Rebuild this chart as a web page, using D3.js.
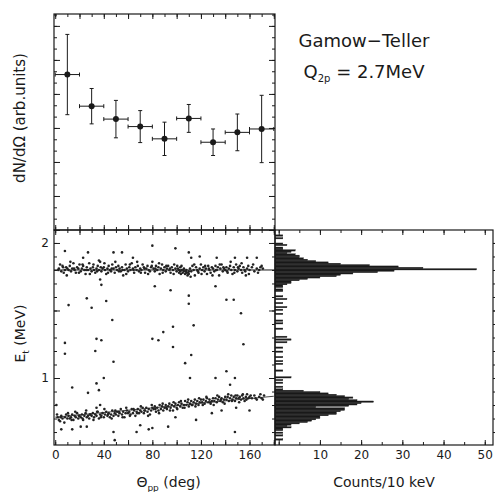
<!DOCTYPE html>
<html>
<head>
<meta charset="utf-8">
<script src="https://cdn.jsdelivr.net/npm/d3@7/dist/d3.min.js"></script>
<style>
body { margin: 0; background: #fff; }
svg text { font-family: "DejaVu Sans", sans-serif; fill: #1a1a1a; }
</style>
</head>
<body>
<div id="chart"></div>
<script>
// angular distribution, 20 deg bins
const thetaBins = [10, 30, 50, 70, 90, 110, 130, 150, 170];
const thetaHalfWidth = 10;
const dndo = [4.57, 3.64, 3.26, 3.04, 2.68, 3.28, 2.58, 2.87, 2.97];
const dndoErr = [1.18, 0.52, 0.55, 0.47, 0.49, 0.41, 0.39, 0.54, 0.99];

// scatter events [theta (deg), E (MeV)]
const upperBand = [
  [3,1.81],[5,1.79],[6,1.83],[8,1.80],[9,1.82],[4,1.84],[7,1.78],[10,1.81],
  [11,1.80],[12,1.83],[13,1.79],[14,1.81],[15,1.85],[16,1.80],[17,1.78],[18,1.82],[19,1.81],[20,1.84],
  [21,1.79],[22,1.81],[23,1.83],[24,1.80],[25,1.77],[26,1.82],[27,1.80],[28,1.85],[29,1.81],[30,1.79],
  [31,1.82],[32,1.80],[33,1.78],[34,1.81],[35,1.83],[36,1.80],[37,1.86],[38,1.79],[39,1.81],[40,1.82],
  [41,1.80],[42,1.77],[43,1.81],[44,1.83],[45,1.80],[46,1.79],[47,1.84],[48,1.81],[49,1.78],[50,1.82],
  [51,1.80],[52,1.83],[53,1.81],[54,1.79],[55,1.82],[56,1.76],[57,1.80],[58,1.84],[59,1.81],[60,1.79],
  [61,1.82],[62,1.80],[63,1.85],[64,1.81],[65,1.78],[66,1.82],[67,1.80],[68,1.83],[69,1.79],[70,1.81],
  [71,1.80],[72,1.84],[73,1.82],[74,1.78],[75,1.81],[76,1.83],[77,1.80],[78,1.79],[79,1.82],[80,1.86],
  [81,1.81],[82,1.79],[83,1.83],[84,1.80],[85,1.82],[86,1.77],[87,1.81],[88,1.84],[89,1.80],[90,1.82],
  [91,1.79],[92,1.81],[93,1.83],[94,1.80],[95,1.78],[96,1.82],[97,1.80],[98,1.84],[99,1.81],[100,1.79],
  [101,1.81],[102,1.80],[103,1.79],[104,1.80],[105,1.78],[106,1.79],[107,1.77],[108,1.78],[109,1.76],[110,1.77],
  [103,1.82],[106,1.81],[108,1.80],[110,1.79],[104,1.83],[102,1.78],
  [111,1.81],[112,1.79],[113,1.83],[114,1.80],[115,1.76],[116,1.82],[117,1.80],[118,1.78],[119,1.81],[120,1.84],
  [121,1.80],[122,1.82],[123,1.79],[124,1.81],[125,1.77],[126,1.83],[127,1.80],[128,1.78],[129,1.82],[130,1.81],
  [131,1.79],[132,1.83],[133,1.80],[134,1.82],[135,1.76],[136,1.81],[137,1.84],[138,1.79],[139,1.81],[140,1.80],
  [141,1.82],[142,1.78],[143,1.81],[144,1.83],[145,1.80],[146,1.77],[147,1.82],[148,1.80],[149,1.84],[150,1.79],
  [151,1.81],[152,1.83],[153,1.80],[154,1.78],[155,1.82],[156,1.80],[157,1.76],[158,1.81],[159,1.83],[160,1.80],
  [162,1.82],[164,1.79],[166,1.81],[168,1.80],[170,1.83],[171,1.81],
  [2.5,1.80],[6.5,1.82],[9.5,1.76],[12.5,1.86],[15.5,1.81],[19.5,1.78],[22.5,1.84],[25.5,1.80],[28.5,1.77],
  [31.5,1.84],[34.5,1.79],[37.5,1.82],[40.5,1.85],[43.5,1.78],[46.5,1.81],[49.5,1.86],[52.5,1.79],[55.5,1.80],
  [58.5,1.77],[61.5,1.84],[64.5,1.80],[67.5,1.86],[70.5,1.78],[73.5,1.81],[76.5,1.77],[79.5,1.83],[82.5,1.81],
  [85.5,1.85],[88.5,1.78],[91.5,1.83],[94.5,1.81],[97.5,1.77],[100.5,1.83],[103.5,1.77],[105.5,1.80],[107.5,1.79],
  [109.5,1.78],[111.5,1.75],[114.5,1.84],[117.5,1.79],[120.5,1.77],[123.5,1.83],[126.5,1.81],[129.5,1.76],
  [132.5,1.80],[135.5,1.84],[138.5,1.82],[141.5,1.79],[144.5,1.86],[147.5,1.78],[150.5,1.82],[153.5,1.85],
  [156.5,1.79],[159.5,1.77],[163,1.84],[167,1.78],[169,1.82]
];
const lowerBand = [
  [2,0.71],[3,0.69],[5,0.72],[6,0.70],[8,0.71],[9,0.73],[4,0.68],[10,0.70],
  [11,0.72],[12,0.70],[13,0.71],[14,0.73],[15,0.69],[16,0.72],[17,0.71],[18,0.74],[19,0.70],[20,0.72],
  [21,0.71],[22,0.73],[23,0.69],[24,0.72],[25,0.74],[26,0.71],[27,0.72],[28,0.70],[29,0.73],[30,0.72],
  [31,0.74],[32,0.71],[33,0.73],[34,0.72],[35,0.75],[36,0.70],[37,0.73],[38,0.72],[39,0.74],[40,0.71],
  [41,0.73],[42,0.75],[43,0.72],[44,0.74],[45,0.71],[46,0.73],[47,0.76],[48,0.72],[49,0.74],[50,0.73],
  [51,0.75],[52,0.72],[53,0.74],[54,0.77],[55,0.73],[56,0.75],[57,0.71],[58,0.74],[59,0.76],[60,0.74],
  [61,0.75],[62,0.73],[63,0.77],[64,0.74],[65,0.76],[66,0.72],[67,0.75],[68,0.77],[69,0.74],[70,0.76],
  [71,0.75],[72,0.78],[73,0.74],[74,0.76],[75,0.78],[76,0.75],[77,0.77],[78,0.73],[79,0.76],[80,0.78],
  [81,0.77],[82,0.79],[83,0.75],[84,0.78],[85,0.76],[86,0.80],[87,0.77],[88,0.79],[89,0.76],[90,0.78],
  [91,0.80],[92,0.77],[93,0.79],[94,0.81],[95,0.78],[96,0.80],[97,0.76],[98,0.79],[99,0.81],[100,0.78],
  [101,0.80],[102,0.82],[103,0.79],[104,0.81],[105,0.78],[106,0.80],[107,0.83],[108,0.80],[109,0.82],[110,0.79],
  [111,0.81],[112,0.83],[113,0.80],[114,0.82],[115,0.84],[116,0.81],[117,0.83],[118,0.80],[119,0.82],[120,0.84],
  [121,0.82],[122,0.84],[123,0.81],[124,0.83],[125,0.85],[126,0.82],[127,0.84],[128,0.81],[129,0.83],[130,0.85],
  [131,0.83],[132,0.85],[133,0.82],[134,0.84],[135,0.86],[136,0.83],[137,0.85],[138,0.82],[139,0.84],[140,0.86],
  [141,0.84],[142,0.86],[143,0.83],[144,0.85],[145,0.87],[146,0.84],[147,0.86],[148,0.83],[149,0.85],[150,0.87],
  [151,0.85],[152,0.86],[153,0.84],[154,0.87],[155,0.85],[156,0.83],[157,0.86],[158,0.88],[159,0.85],[160,0.86],
  [162,0.85],[164,0.87],[166,0.84],[168,0.86],[170,0.85],[172,0.87],
  [1.5,0.73],[4.5,0.71],[7.5,0.67],[10.5,0.74],[13.5,0.69],[16.5,0.75],[19.5,0.72],[22.5,0.70],[25.5,0.76],
  [28.5,0.73],[31.5,0.69],[34.5,0.75],[37.5,0.71],[40.5,0.77],[43.5,0.73],[46.5,0.70],[49.5,0.76],[52.5,0.75],
  [55.5,0.71],[58.5,0.78],[61.5,0.72],[64.5,0.77],[67.5,0.74],[70.5,0.79],[73.5,0.76],[76.5,0.72],[79.5,0.80],
  [82.5,0.77],[85.5,0.74],[88.5,0.81],[91.5,0.78],[94.5,0.76],[97.5,0.82],[100.5,0.77],[103.5,0.83],[106.5,0.78],
  [109.5,0.84],[112.5,0.80],[115.5,0.79],[118.5,0.85],[121.5,0.80],[124.5,0.86],[127.5,0.82],[130.5,0.80],
  [133.5,0.87],[136.5,0.84],[139.5,0.81],[142.5,0.88],[145.5,0.83],[148.5,0.87],[151.5,0.82],[154.5,0.88],
  [157.5,0.84],[161,0.87],[165,0.85],[169,0.88],[171,0.84]
];
const otherEvents = [
  [8,1.94],[27,1.93],[48,1.93],[55,1.93],[80,1.98],[99,1.96],[110,1.93],
  [23,1.89],[36,1.87],[64,1.89],[112,1.89],[119,1.90],[133,1.89],[148,1.89],[158,1.89],[166,1.89],
  [37,1.73],[38,1.69],[82,1.68],[95,1.65],[132,1.68],
  [11,1.54],[26,1.59],[30,1.52],[42,1.57],[110,1.61],[110,1.55],[141,1.58],[147,1.58],[153,1.48],
  [47,1.43],[89,1.34],[80,1.29],[85,1.28],[97,1.38],[114,1.39],[34,1.29],[38,1.28],
  [8,1.26],[8,1.18],[33,1.20],[48,1.12],[97,1.23],[107,1.11],[112,1.17],[155,1.25],
  [111,1.00],[132,1.00],[141,1.05],[148,1.00],[144,0.95],
  [34,0.96],[36,0.91],[40,1.00],[14,0.93],[27,0.89],
  [5,0.62],[14,0.62],[21,0.64],[26,0.64],[48,0.60],[49,0.54],[70,0.65],[67,0.60],[77,0.62],[80,0.63],
  [93,0.64],[99,0.71],[116,0.69],[129,0.74],[137,0.76],[148,0.60],[149,0.78],[160,0.76],
  [1,0.80],[34,0.78],[37,0.80]
];
const refLineE = 1.8;
const lowerLine = [[0, 0.71], [180, 0.865]];

// E spectrum, 10 keV bins starting at 0.50 MeV
const histStart = 0.50;
const histBin = 0.01;
const histCounts = [
  0,0,0,0,1,0,0,1,0,1,
  0,1,1,3,2,3,5,7,8,9,
  10,10,12,14,14,15,16,16,9,17,
  19,20,23,19,17,18,16,14,12,10,
  6,1,0,1,0,0,1,0,1,0,
  3,0,0,0,0,1,0,0,0,0,
  1,0,1,0,0,1,0,0,0,1,
  0,0,1,0,0,0,2,0,3,0,
  2,0,0,0,0,0,1,0,0,0,
  1,0,1,0,0,0,0,1,0,0,
  1,0,2,0,0,1,0,0,2,0,
  1,0,0,0,1,1,0,1,1,2,
  3,3,5,7,10,14,15,18,24,28,
  48,35,29,22,15,12,9,7,6,5,
  5,4,2,3,4,1,1,0,2,1,
  0,0,0,1,0,1,0,0,0,0
];

const thetaLabels = [0, 40, 80, 120, 160];
const eLabels = [1, 2];
const countLabels = [10, 20, 30, 40, 50];

const W = 495, H = 492;
const pLeft = 54, pMid = 275, pRight = 493, pTop = 14, pSplit = 230, pBottom = 445;
const ink = "#1a1a1a";

const svg = d3.select("#chart").append("svg").attr("width", W).attr("height", H);

const xTheta = d3.scaleLinear().domain([-1, 181]).range([pLeft, pMid]);
const yDist = d3.scaleLinear().domain([0, 6.35]).range([pSplit, pTop]);
const yE = d3.scaleLinear().domain([0.504, 2.096]).range([pBottom, pSplit]);
const xCount = d3.scaleLinear().domain([-0.9, 52]).range([pMid, pRight]);

// inward ticks: minor and major sets drawn as separate axes
function ticks(axisFn, scale, values, len, pos, labels) {
  const ax = axisFn(scale).tickValues(values).tickSizeOuter(0).tickSize(-len).tickPadding(5)
    .tickFormat(d => labels && labels.includes(d) ? d3.format("d")(d) : "");
  const g = svg.append("g").attr("transform", pos).call(ax);
  g.select(".domain").remove();
  g.selectAll(".tick line").attr("stroke", ink);
  g.selectAll(".tick text").attr("font-size", 12).attr("font-family", "Liberation Sans, sans-serif").attr("fill", ink);
  return g;
}

const thetaMinor = d3.range(0, 181, 10);
const thetaMajor = d3.range(0, 181, 20);
const distMinor = d3.range(0, 6.35, 1 / 3);
const distMajor = d3.range(0, 6.35, 1);
const eMinor = d3.range(0.6, 2.09, 0.1);
const eMajor = [1, 1.5, 2];
const countMinor = d3.range(0, 51, 5);
const countMajor = d3.range(0, 51, 10);

// top panel
ticks(d3.axisTop, xTheta, thetaMinor, 3, `translate(0,${pTop})`);
ticks(d3.axisTop, xTheta, thetaMajor, 5, `translate(0,${pTop})`);
ticks(d3.axisBottom, xTheta, thetaMinor, 3, `translate(0,${pSplit})`);
ticks(d3.axisBottom, xTheta, thetaMajor, 5, `translate(0,${pSplit})`);
ticks(d3.axisLeft, yDist, distMinor, 3, `translate(${pLeft},0)`);
ticks(d3.axisLeft, yDist, distMajor, 6, `translate(${pLeft},0)`);
ticks(d3.axisRight, yDist, distMinor, 3, `translate(${pMid},0)`);
ticks(d3.axisRight, yDist, distMajor, 6, `translate(${pMid},0)`);

// scatter panel
ticks(d3.axisTop, xTheta, thetaMinor, 3, `translate(0,${pSplit})`);
ticks(d3.axisTop, xTheta, thetaMajor, 5, `translate(0,${pSplit})`);
ticks(d3.axisBottom, xTheta, thetaMinor, 3, `translate(0,${pBottom})`);
ticks(d3.axisBottom, xTheta, thetaMajor, 5, `translate(0,${pBottom})`, thetaLabels);
ticks(d3.axisLeft, yE, eMinor, 3, `translate(${pLeft},0)`);
ticks(d3.axisLeft, yE, eMajor, 6, `translate(${pLeft},0)`, eLabels);

// histogram panel
ticks(d3.axisRight, yE, eMinor, 3, `translate(${pMid},0)`);
ticks(d3.axisRight, yE, eMajor, 6, `translate(${pMid},0)`);
ticks(d3.axisLeft, yE, eMinor, 3, `translate(${pRight},0)`);
ticks(d3.axisLeft, yE, eMajor, 6, `translate(${pRight},0)`);
ticks(d3.axisTop, xCount, countMinor, 3, `translate(0,${pSplit})`);
ticks(d3.axisTop, xCount, countMajor, 5, `translate(0,${pSplit})`);
ticks(d3.axisBottom, xCount, countMinor, 3, `translate(0,${pBottom})`);
ticks(d3.axisBottom, xCount, countMajor, 5, `translate(0,${pBottom})`, countLabels);

// histogram bars
const histData = histCounts.map((c, i) => ({ e0: histStart + i * histBin, c }));
svg.append("g").selectAll("rect")
  .data(histData.filter(d => d.c > 0))
  .enter().append("rect")
  .attr("x", pMid)
  .attr("y", d => yE(d.e0 + histBin))
  .attr("width", d => xCount(d.c) - pMid)
  .attr("height", d => yE(d.e0) - yE(d.e0 + histBin))
  .attr("fill", ink)
  .attr("stroke", ink)
  .attr("stroke-width", 0.35);

// reference lines in scatter
svg.append("line")
  .attr("x1", pLeft).attr("x2", pMid)
  .attr("y1", yE(refLineE)).attr("y2", yE(refLineE))
  .attr("stroke", ink).attr("stroke-width", 1);
svg.append("path")
  .attr("d", d3.line().x(d => xTheta(d[0])).y(d => yE(d[1]))(lowerLine))
  .attr("stroke", ink).attr("stroke-width", 0.8).attr("fill", "none");

// scatter points
svg.append("g").selectAll("circle")
  .data(upperBand.concat(lowerBand, otherEvents))
  .enter().append("circle")
  .attr("cx", d => xTheta(d[0]))
  .attr("cy", d => yE(d[1]))
  .attr("r", 1.3)
  .attr("fill", "#222");

// error bars + markers
const pts = thetaBins.map((t, i) => ({ t, v: dndo[i], e: dndoErr[i] }));
const eb = svg.append("g").attr("stroke", ink).attr("stroke-width", 1);
pts.forEach(d => {
  const cx = xTheta(d.t), cy = yDist(d.v);
  const y1 = yDist(d.v + d.e), y2 = yDist(d.v - d.e);
  const x1 = xTheta(d.t - thetaHalfWidth), x2 = Math.min(xTheta(d.t + thetaHalfWidth), pMid);
  eb.append("line").attr("x1", cx).attr("x2", cx).attr("y1", y1).attr("y2", y2);
  eb.append("line").attr("x1", cx - 2).attr("x2", cx + 2).attr("y1", y1).attr("y2", y1);
  eb.append("line").attr("x1", cx - 2).attr("x2", cx + 2).attr("y1", y2).attr("y2", y2);
  eb.append("line").attr("x1", x1).attr("x2", x2).attr("y1", cy).attr("y2", cy);
  eb.append("line").attr("x1", x1).attr("x2", x1).attr("y1", cy - 2).attr("y2", cy + 2);
  eb.append("line").attr("x1", x2).attr("x2", x2).attr("y1", cy - 2).attr("y2", cy + 2);
});
svg.append("g").selectAll("circle")
  .data(pts).enter().append("circle")
  .attr("cx", d => xTheta(d.t)).attr("cy", d => yDist(d.v))
  .attr("r", 3).attr("fill", ink);

// frames
const frame = svg.append("g").attr("fill", "none").attr("stroke", ink).attr("stroke-width", 1.2);
frame.append("rect").attr("x", pLeft).attr("y", pTop).attr("width", pMid - pLeft).attr("height", pSplit - pTop);
frame.append("rect").attr("x", pLeft).attr("y", pSplit).attr("width", pMid - pLeft).attr("height", pBottom - pSplit);
frame.append("rect").attr("x", pMid).attr("y", pSplit).attr("width", pRight - pMid).attr("height", pBottom - pSplit);

// titles
svg.append("text")
  .attr("transform", `translate(25,${(pTop + pSplit) / 2 - 4}) rotate(-90)`)
  .attr("text-anchor", "middle").attr("font-size", 15)
  .text("dN/dΩ (arb.units)");

const eTitle = svg.append("text")
  .attr("transform", `translate(25,${(pSplit + pBottom) / 2 - 4}) rotate(-90)`)
  .attr("text-anchor", "middle").attr("font-size", 14);
eTitle.append("tspan").text("E");
eTitle.append("tspan").attr("font-size", 9).attr("dy", 4).text("t");
eTitle.append("tspan").attr("dy", -4).text(" (MeV)");

const tTitle = svg.append("text")
  .attr("x", (pLeft + pMid) / 2 + 4).attr("y", 487)
  .attr("text-anchor", "middle").attr("font-size", 14);
tTitle.append("tspan").text("Θ");
tTitle.append("tspan").attr("font-size", 9).attr("dy", 4).text("pp");
tTitle.append("tspan").attr("dy", -4).text(" (deg)");

svg.append("text")
  .attr("x", 384).attr("y", 487)
  .attr("text-anchor", "middle").attr("font-size", 14)
  .text("Counts/10 keV");

svg.append("text")
  .attr("x", 364).attr("y", 47)
  .attr("text-anchor", "middle").attr("font-size", 18)
  .text("Gamow−Teller");

const qText = svg.append("text")
  .attr("x", 364).attr("y", 78)
  .attr("text-anchor", "middle").attr("font-size", 18);
qText.append("tspan").text("Q");
qText.append("tspan").attr("font-size", 10).attr("dy", 4).text("2p");
qText.append("tspan").attr("dy", -4).text(" = 2.7MeV");
</script>
</body>
</html>
